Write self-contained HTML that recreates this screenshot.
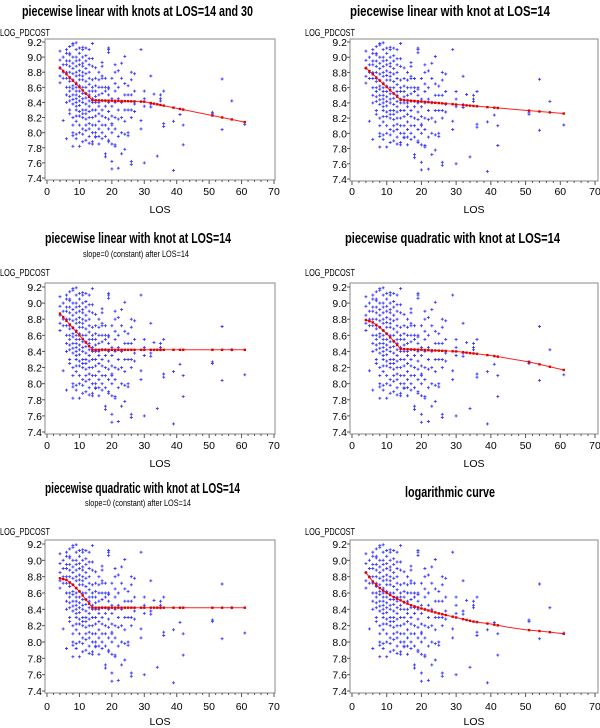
<!DOCTYPE html>
<html><head><meta charset="utf-8"><style>
html,body{margin:0;padding:0;background:#fff;}
svg{display:block;font-family:"Liberation Sans",Arial,sans-serif;}
</style></head><body>
<svg id="chart" width="600" height="728" viewBox="0 0 600 728" xmlns="http://www.w3.org/2000/svg"></svg>
<script>
// ---- data ----
const losValues = [4,5,6,7,8,9,10,11,12,13,14,15,16,17,18,19,20,21,22,23,24,25,26,27,29,30,32,33,34,35,36,39,41,42,51,54,57,61];
const costValues = [
 [9.08,8.96,8.85,8.66,8.75],
 [9.0,8.9,8.8,8.72,8.16],
 [9.1,9.05,8.95,8.9,8.8,8.72,8.6,8.5,8.4,7.92],
 [9.14,9.05,9.03,8.95,8.88,8.8,8.72,8.68,8.6,8.55,8.48,8.42,8.3,8.25],
 [9.18,9.16,9.0,8.92,8.85,8.78,8.7,8.62,8.58,8.5,8.44,8.38,8.2,8.1,8.0,7.96,7.82],
 [9.19,9.1,9.0,8.95,8.88,8.8,8.75,8.66,8.6,8.55,8.5,8.45,8.4,8.35,8.3,8.22,8.15,7.98,7.92],
 [9.12,9.05,8.96,8.9,8.82,8.76,8.7,8.62,8.55,8.48,8.42,8.36,8.28,8.22,8.1,8.0,7.82],
 [9.13,9.1,9.0,8.92,8.88,8.8,8.75,8.7,8.6,8.52,8.45,8.4,8.3,8.25,8.2,8.05,7.98,7.88],
 [9.12,9.02,8.95,8.85,8.78,8.68,8.6,8.52,8.46,8.38,8.3,8.25,8.18,8.1,8.03,7.9],
 [9.1,8.98,8.9,8.8,8.72,8.64,8.55,8.5,8.42,8.35,8.28,8.2,8.12,8.05,7.95,7.86],
 [9.18,8.98,8.88,8.7,8.6,8.55,8.45,8.4,8.3,8.2,8.1,8.0,7.88,7.85],
 [8.86,8.72,8.62,8.55,8.48,8.4,8.3,8.22,8.1,8.0,7.95,7.94],
 [8.8,8.7,8.6,8.5,8.4,8.35,8.25,8.15,8.05,7.95,7.85],
 [8.93,8.88,8.75,8.72,8.6,8.52,8.42,8.3,8.22,8.1,8.0,7.92],
 [8.72,8.6,8.55,8.42,8.35,8.2,8.1,7.95,7.72,7.68],
 [9.12,9.1,9.06,8.6,8.58,8.5,8.4,8.28,8.18,8.05,7.9,7.88],
 [8.72,8.45,8.35,8.22,8.12,8.1,8.0,7.85,7.62,7.52],
 [8.9,8.8,8.65,8.55,8.4,8.2,8.05,7.84,7.82],
 [8.82,8.6,8.45,8.3,8.18,7.95,7.53],
 [8.92,8.72,8.4,8.2,8.0,7.72],
 [9.01,8.65,8.5,8.3,8.15,7.98,7.78],
 [8.62,8.5,8.3,8.0,7.96],
 [8.8,8.7,8.5,8.3,8.2,7.62,7.58],
 [8.78,8.55,8.38,8.28],
 [9.1,8.16,8.05],
 [8.55,8.45,8.35,7.6],
 [8.75,8.38,8.34],
 [8.51],
 [7.69],
 [8.5,8.45,8.42],
 [8.55,8.12,8.08],
 [8.15,7.5],
 [8.24],
 [8.1,7.84],
 [8.27,8.25],
 [8.71,8.04],
 [8.42],
 [8.11]
];
const fit1X = [4,14,30,61];            const fit1Y = [8.86,8.43,8.41,8.14];
const fit2X = [4,14,61];               const fit2Y = [8.86,8.44,8.26];
const fit3X = [4,14,61];               const fit3Y = [8.87,8.42,8.42];
const fit4X = [4,6,8,10,12,14,20,30,40,51,61]; const fit4Y = [8.79,8.76,8.70,8.62,8.53,8.43,8.42,8.40,8.35,8.27,8.17];
const fit5X = [4,6,8,10,12,14,61];     const fit5Y = [8.78,8.76,8.70,8.62,8.52,8.42,8.42];
const fit6X = [4,6,8,10,12,14,17,20,25,30,35,40,45,50,55,61];
const fit6Y = [8.85,8.74,8.66,8.60,8.55,8.51,8.45,8.41,8.35,8.30,8.25,8.22,8.18,8.15,8.13,8.10];
const xTicks = [0,10,20,30,40,50,60,70];
const yTicks = [7.4,7.6,7.8,8.0,8.2,8.4,8.6,8.8,9.0,9.2];

// ---- layout ----
const NS = "http://www.w3.org/2000/svg";
const svg = document.getElementById('chart');
function mk(tag, attrs, parent){const e=document.createElementNS(NS,tag);for(const k in attrs)e.setAttribute(k,attrs[k]);(parent||svg).appendChild(e);return e;}

const panels = [
 {name:'panel-knots-14-30', title:'piecewise linear with knots at LOS=14 and 30', tx:22,tw:231,ty:16, sub:null, lx0:47,lx1:274, yt:42,yb:178, ft:39,fb:180, fl:45,fr:275, ylab:36, xlab:195, loslab:213, fx:fit1X, fy:fit1Y},
 {name:'panel-knot-14', title:'piecewise linear with knot at LOS=14', tx:350,tw:200,ty:16, sub:null, lx0:352,lx1:595, yt:42,yb:179, ft:39,fb:181, fl:350,fr:598, ylab:36, xlab:195, loslab:213, fx:fit2X, fy:fit2Y},
 {name:'panel-knot-14-constant', title:'piecewise linear with knot at LOS=14', tx:45,tw:186,ty:243, sub:'slope=0 (constant) after LOS=14', sx:83,sw:106,sy:257, lx0:47,lx1:274, yt:287,yb:432, ft:283,fb:434, fl:45,fr:275, ylab:276, xlab:449, loslab:467, fx:fit3X, fy:fit3Y},
 {name:'panel-quadratic-knot-14', title:'piecewise quadratic with knot at LOS=14', tx:345,tw:215,ty:243, sub:null, lx0:352,lx1:595, yt:287,yb:432, ft:283,fb:434, fl:350,fr:598, ylab:276, xlab:449, loslab:467, fx:fit4X, fy:fit4Y},
 {name:'panel-quadratic-knot-14-constant', title:'piecewise quadratic with knot at LOS=14', tx:45,tw:195,ty:493, sub:'slope=0 (constant) after LOS=14', sx:85,sw:106,sy:506, lx0:47,lx1:274, yt:544,yb:691, ft:540,fb:693, fl:45,fr:275, ylab:535, xlab:710, loslab:725, fx:fit5X, fy:fit5Y},
 {name:'panel-logarithmic', title:'logarithmic curve', tx:405,tw:90,ty:497, sub:null, lx0:352,lx1:595, yt:544,yb:691, ft:540,fb:693, fl:350,fr:598, ylab:535, xlab:710, loslab:725, fx:fit6X, fy:fit6Y}
];

function interp(X,Y,x){for(let i=0;i<X.length-1;i++){if(x>=X[i]&&x<=X[i+1]){const t=(x-X[i])/(X[i+1]-X[i]);return Y[i]+t*(Y[i+1]-Y[i]);}}return Y[Y.length-1];}

panels.forEach(p=>{
  const g = mk('g',{});
  
  
  const sx = v => p.lx0 + (v-0)/70*(p.lx1-p.lx0);
  const sy = v => p.yb - (v-7.4)/1.8*(p.yb-p.yt);
  const t = mk('text',{x:p.tx,y:p.ty,'font-size':15,'font-weight':'bold',textLength:p.tw,lengthAdjust:'spacingAndGlyphs',fill:'#000'},g);
  t.textContent = p.title;
  
  
  if(p.sub){
    const s = mk('text',{x:p.sx,y:p.sy,'font-size':9,textLength:p.sw,lengthAdjust:'spacingAndGlyphs',fill:'#000'},g);
    s.textContent = p.sub;
    
    
  }
  const yl = mk('text',{x:p.fl-45,y:p.ylab,'font-size':10,textLength:50,lengthAdjust:'spacingAndGlyphs',fill:'#000'},g);
  yl.textContent = 'LOG_PDCOST';
  
  
  const fr = mk('rect',{x:p.fl,y:p.ft,width:p.fr-p.fl,height:p.fb-p.ft,fill:'none',stroke:'#8a8a8a','stroke-width':1},g);
  
  
  // y ticks
  yTicks.forEach(v=>{
    const y = sy(v);
    mk('line',{x1:p.fl-3,x2:p.fl,y1:y,y2:y,stroke:'#555','stroke-width':1},g);
    const tl = mk('text',{x:p.fl-3,y:y+4,'font-size':10.5,'text-anchor':'end',fill:'#000'},g);
    tl.textContent = v.toFixed(1);
    
    
  });
  // x minor ticks
  for(let v=0; v<=70; v+=2){
    const x = sx(v);
    mk('line',{x1:x,x2:x,y1:p.fb,y2:p.fb+(v%10===0?4:2),stroke:'#555','stroke-width':1},g);
  }
  xTicks.forEach(v=>{
    const tl = mk('text',{x:sx(v),y:p.xlab,'font-size':10.5,'text-anchor':'middle',fill:'#000'},g);
    tl.textContent = String(v);
    
    
  });
  const xl = mk('text',{x:(p.fl+p.fr)/2,y:p.loslab,'font-size':10.5,'text-anchor':'middle',fill:'#000'},g);
  xl.textContent = 'LOS';
  
  
  // scatter
  let d='';
  losValues.forEach((L,i)=>{
    costValues[i].forEach(c=>{
      const x=sx(L), y=sy(c);
      d += `M${(x-1.5).toFixed(1)} ${y.toFixed(1)}h3M${x.toFixed(1)} ${(y-1.5).toFixed(1)}v3`;
    });
  });
  const sc = mk('path',{d:d,stroke:'#3a3aff','stroke-width':0.9,fill:'none'},g);
  
  
  // fit line
  const pts = p.fx.map((x,i)=>sx(x).toFixed(1)+','+sy(p.fy[i]).toFixed(1)).join(' ');
  const fl = mk('polyline',{points:pts,fill:'none',stroke:'#ff2020','stroke-width':1},g);
  
  
  losValues.forEach(L=>{
    const r = mk('rect',{x:sx(L)-1.2,y:sy(interp(p.fx,p.fy,L))-1.2,width:2.4,height:2.4,fill:'#e00000'},g);
    
    
  });
});
</script>
</body></html>
